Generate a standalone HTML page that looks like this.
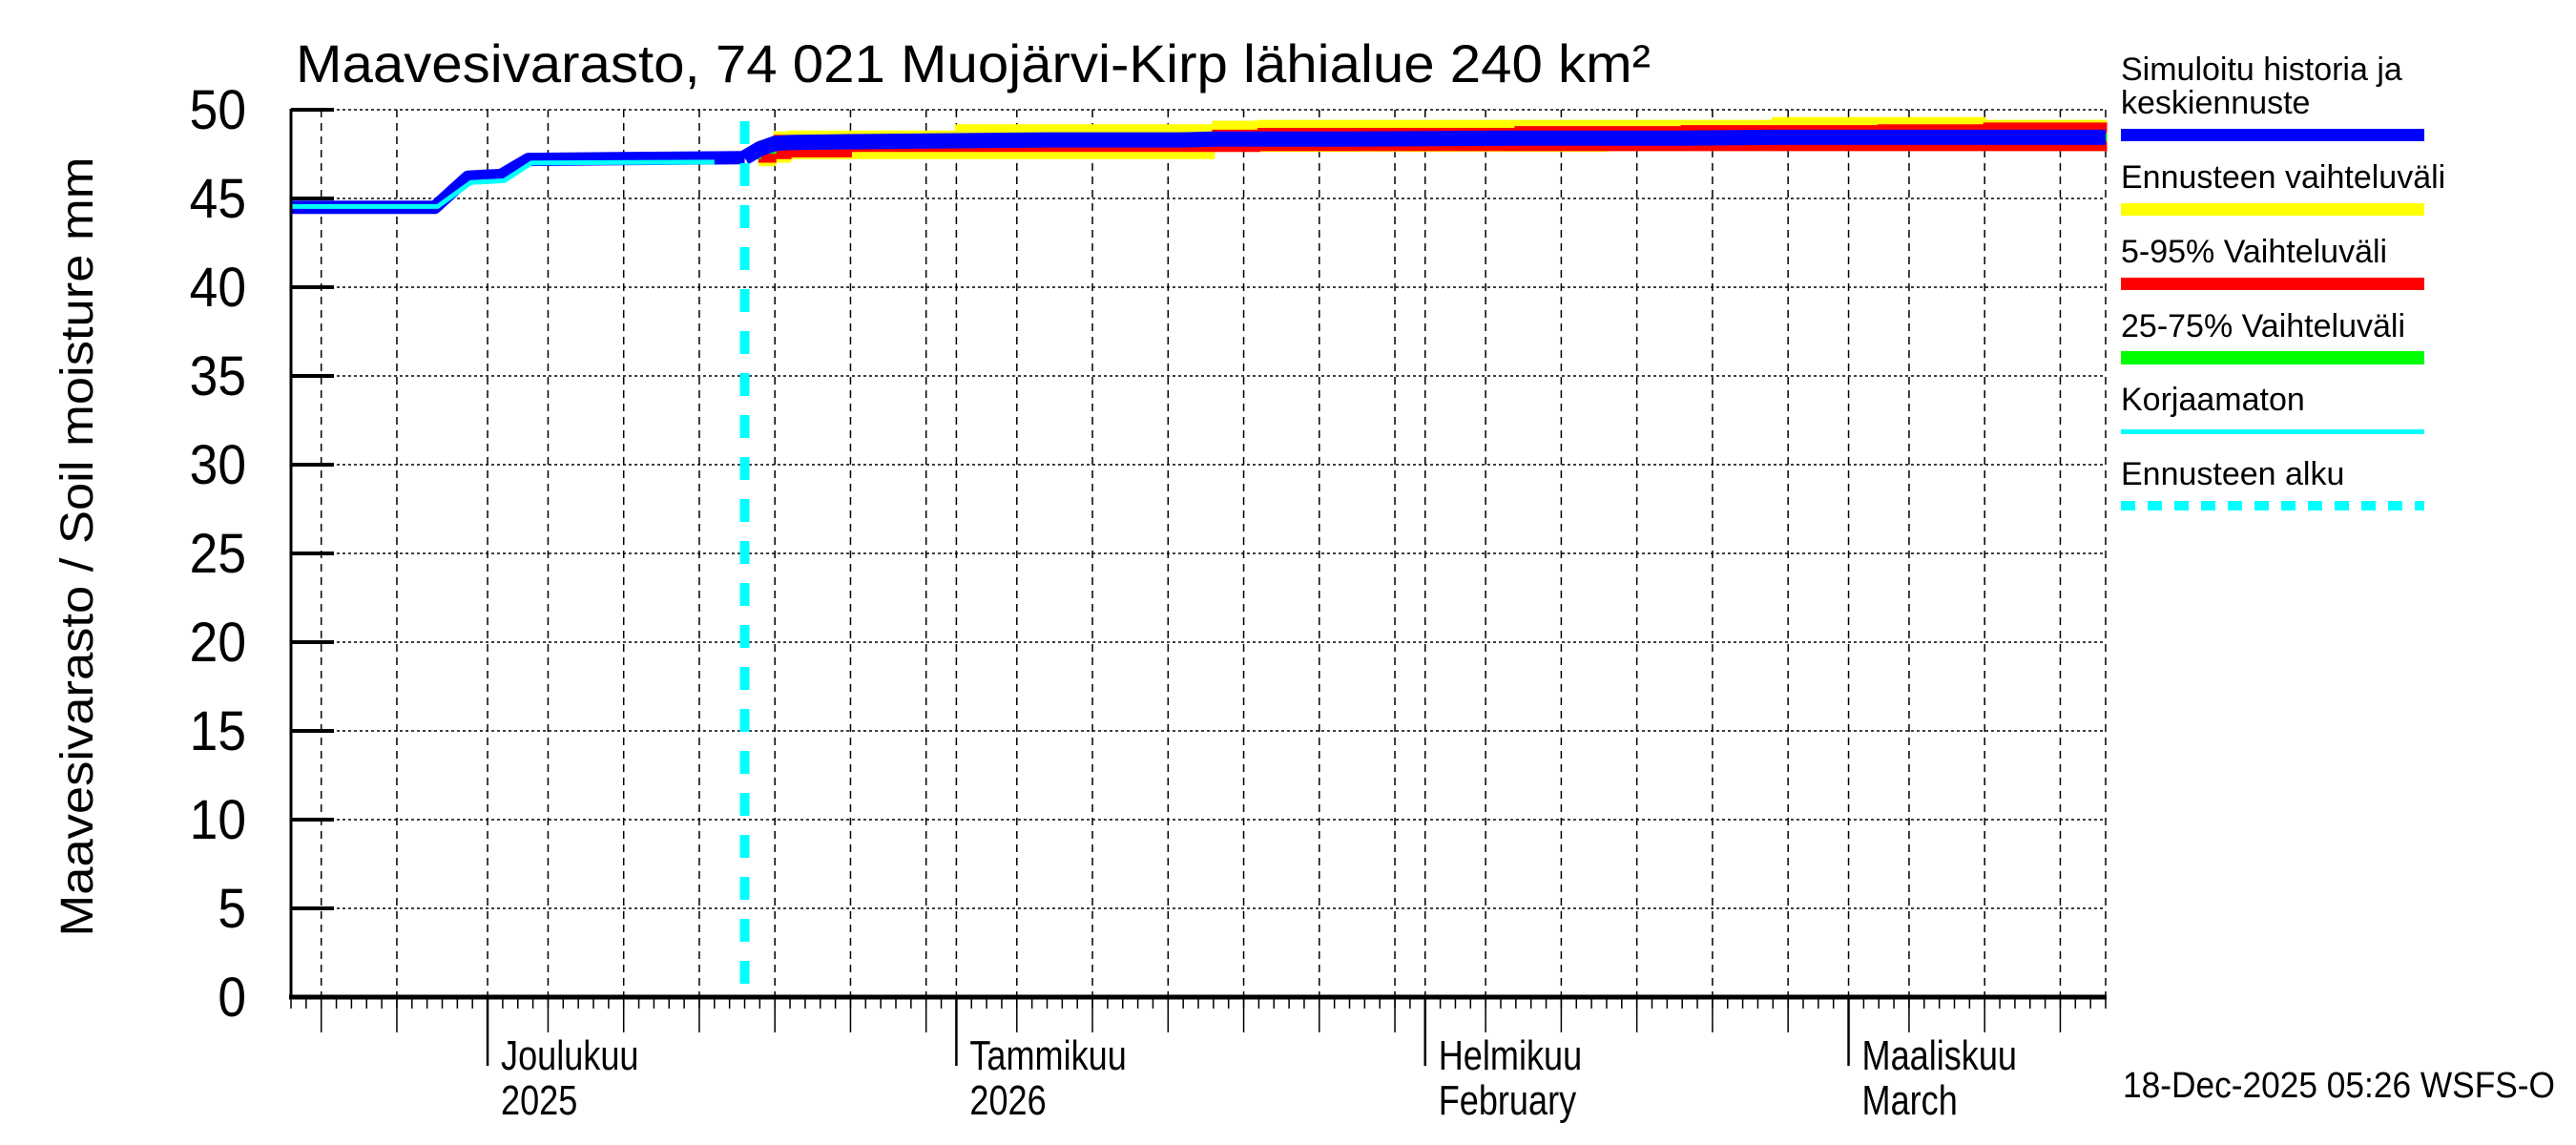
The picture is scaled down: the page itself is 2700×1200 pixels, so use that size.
<!DOCTYPE html>
<html><head><meta charset="utf-8"><style>
html,body{margin:0;padding:0;background:#fff;}
svg{display:block;font-family:"Liberation Sans",sans-serif;}
</style></head><body>
<svg id="chart" width="2700" height="1200" viewBox="0 0 2700 1200" xmlns="http://www.w3.org/2000/svg">
<rect width="2700" height="1200" fill="#fff"/>
<text x="310" y="86" font-size="56" textLength="1420" lengthAdjust="spacingAndGlyphs">Maavesivarasto, 74 021 Muojärvi-Kirp lähialue 240 km²</text>
<text transform="translate(97,573) rotate(-90)" text-anchor="middle" font-size="48" textLength="817" lengthAdjust="spacingAndGlyphs">Maavesivarasto / Soil moisture   mm</text>
<g id="grid"></g>
<g id="bands"></g>
<g id="lines"></g>
<g id="axes"></g>
<g id="legend">
 <text x="2223" y="84" font-size="34">Simuloitu historia ja</text>
 <text x="2223" y="119" font-size="34">keskiennuste</text>
 <rect x="2223" y="135" width="318" height="13" fill="#0000ff"/>
 <text x="2223" y="197" font-size="34">Ennusteen vaihteluväli</text>
 <rect x="2223" y="213" width="318" height="13" fill="#ffff00"/>
 <text x="2223" y="275" font-size="34">5-95% Vaihteluväli</text>
 <rect x="2223" y="291" width="318" height="13" fill="#ff0000"/>
 <text x="2223" y="353" font-size="34">25-75% Vaihteluväli</text>
 <rect x="2223" y="368" width="318" height="14" fill="#00ff00"/>
 <text x="2223" y="430" font-size="34">Korjaamaton</text>
 <rect x="2223" y="450" width="318" height="5" fill="#00ffff"/>
 <text x="2223" y="508" font-size="34">Ennusteen alku</text>
 <line x1="2223" y1="530" x2="2541" y2="530" stroke="#00ffff" stroke-width="10" stroke-dasharray="15,13"/>
</g>
<text x="2225" y="1150" font-size="38" textLength="453" lengthAdjust="spacingAndGlyphs">18-Dec-2025 05:26 WSFS-O</text>
</svg>
<script>
// data
const yTicks = [0,5,10,15,20,25,30,35,40,45,50];
const monthLabels1 = ["Joulukuu","Tammikuu","Helmikuu","Maaliskuu"];
const monthLabels2 = ["2025","2026","February","March"];
const monthDays = [13,44,75,103]; // day index of month starts from Nov 18
const forecastStartDay = 30;
const histDays = [0,9.5,11.7,13.9,15.7,30];
const histValues = [44.5,44.5,46.2,46.3,47.2,47.3];
const uncorrDays = [0,9.7,11.9,14.1,15.9,28];
const uncorrValues = [44.55,44.55,45.9,46.0,47.0,47.05];
const fcDays = [30,31,32,33,37,44,50,59,61,64,70,81,87,92,98,105,112,116,120];
const yellowHi = [47.3,48.2,48.7,48.75,48.75,49.1,49.1,49.1,49.3,49.35,49.35,49.35,49.35,49.35,49.5,49.5,49.35,49.35,49.35];
const yellowLo = [47.3,46.9,47.1,47.3,47.3,47.3,47.3,47.3,47.7,47.7,47.7,47.7,47.75,47.75,47.75,47.75,47.75,47.75,47.75];
const redHi = [47.3,48.1,48.5,48.5,48.55,48.55,48.55,48.65,48.8,48.9,48.9,49.0,49.0,49.05,49.05,49.1,49.2,49.2,49.05];
const redLo = [47.3,47.1,47.3,47.4,47.7,47.7,47.7,47.7,47.7,47.75,47.75,47.75,47.75,47.75,47.75,47.75,47.75,47.75,47.75];
const greenHi = [47.3,47.9,48.25,48.3,48.35,48.4,48.45,48.45,48.5,48.5,48.5,48.55,48.55,48.55,48.6,48.6,48.6,48.6,48.6];
const greenLo = [47.3,47.6,47.9,48.0,48.05,48.1,48.15,48.15,48.2,48.2,48.2,48.25,48.25,48.25,48.3,48.3,48.3,48.3,48.3];
const median = [47.3,47.8,48.1,48.15,48.2,48.25,48.3,48.3,48.35,48.35,48.35,48.4,48.4,48.4,48.45,48.45,48.45,48.45,48.45];

const NS="http://www.w3.org/2000/svg";
const L=305,R=2207,T=115,B=1045,totalDays=120;
const x=d=>L+(R-L)*d/totalDays;
const y=v=>B-(B-T)*v/50;
function mk(tag,attrs,parent){const e=document.createElementNS(NS,tag);for(const k in attrs)e.setAttribute(k,attrs[k]);parent.appendChild(e);return e;}
const grid=document.getElementById('grid'),bands=document.getElementById('bands'),lines=document.getElementById('lines'),axes=document.getElementById('axes');

yTicks.forEach(v=>{
  if(v>0){const g=mk('line',{x1:L,x2:R,y1:y(v),y2:y(v),stroke:'#000','stroke-width':1.5,'stroke-dasharray':'3,3'},grid);
  
  }
  const tk=mk('line',{x1:L,x2:L+45,y1:y(v),y2:y(v),stroke:'#000','stroke-width':4},axes);
  
  
  const t=mk('text',{x:258,y:y(v)+20,'text-anchor':'end','font-size':58},axes);
  t.textContent=v;
  
  
  const w=t.getComputedTextLength();
  if(w>0){t.setAttribute('textLength',w*0.92);t.setAttribute('lengthAdjust','spacingAndGlyphs');}
});
const monthStartDates=[{d:-17,len:30},{d:13,len:31},{d:44,len:31},{d:75,len:28},{d:103,len:31}];
const fiveDays=[];
monthStartDates.forEach(m=>{for(let k=5;k<m.len;k+=5){const dd=m.d+k-1;if(dd>0&&dd<totalDays)fiveDays.push(dd);}});
fiveDays.concat(monthDays).forEach(d=>{
  const g=mk('line',{x1:x(d),x2:x(d),y1:T,y2:B,stroke:'#000','stroke-width':1.5,'stroke-dasharray':'8,6'},grid);
  
  
});
mk('line',{x1:R,x2:R,y1:T,y2:B,stroke:'#000','stroke-width':1.5,'stroke-dasharray':'8,6'},grid);
for(let d=0;d<=totalDays;d++){
  const t=mk('line',{x1:x(d),x2:x(d),y1:B,y2:B+12,stroke:'#000','stroke-width':1.5},axes);
  
  
}
fiveDays.forEach(d=>{
  const t=mk('line',{x1:x(d),x2:x(d),y1:B,y2:1082,stroke:'#000','stroke-width':1.5},axes);
  
  
});
function condense(t,f){const w=t.getComputedTextLength();if(w>0){t.setAttribute('textLength',w*f);t.setAttribute('lengthAdjust','spacingAndGlyphs');}}
monthDays.forEach((d,i)=>{
  const t=mk('line',{x1:x(d),x2:x(d),y1:B,y2:1117,stroke:'#000','stroke-width':2.5},axes);
  
  
  const a=mk('text',{x:x(d)+14,y:1121,'font-size':44},axes);a.textContent=monthLabels1[i];
  
  
  condense(a,0.82);
  const b=mk('text',{x:x(d)+14,y:1168,'font-size':44},axes);b.textContent=monthLabels2[i];
  
  
  condense(b,0.82);
});
// stepped bands
function stepPts(vals){const pts=[];fcDays.forEach((d,i)=>{if(i>0)pts.push([x(d),y(vals[i-1])]);pts.push([x(d),y(vals[i])]);});return pts;}
function band(hi,lo,color,name){
  const up=stepPts(hi),dn=stepPts(lo).reverse();
  const p='M'+up.concat(dn).map(q=>q[0]+','+q[1]).join(' L')+'Z';
  const e=mk('path',{d:p,fill:color,stroke:color,'stroke-width':3},bands);
  
  
}
band(yellowHi,yellowLo,'#ffff00','forecast-range-band');
band(redHi,redLo,'#ff0000','band-5-95');
band(greenHi,greenLo,'#00ff00','band-25-75');
function line(ds,vs,color,w,name){
  const e=mk('polyline',{points:ds.map((d,i)=>x(d)+','+y(vs[i])).join(' '),fill:'none',stroke:color,'stroke-width':w,'stroke-linejoin':'round'},lines);
  
  
}
line(histDays,histValues,'#0000ff',14,'simulated-history-line');
line(fcDays,median,'#0000ff',16,'median-forecast-line');
line(uncorrDays,uncorrValues,'#00ffff',5,'uncorrected-line');
const fs=mk('line',{x1:x(forecastStartDay),x2:x(forecastStartDay),y1:T+12,y2:B,stroke:'#00ffff','stroke-width':10,'stroke-dasharray':'24,20'},lines);


const ax1=mk('line',{x1:L,x2:L,y1:T-1,y2:B+2,stroke:'#000','stroke-width':3},axes);


const ax2=mk('line',{x1:L-2,x2:R+1,y1:B,y2:B,stroke:'#000','stroke-width':5},axes);


</script>
</body></html>
